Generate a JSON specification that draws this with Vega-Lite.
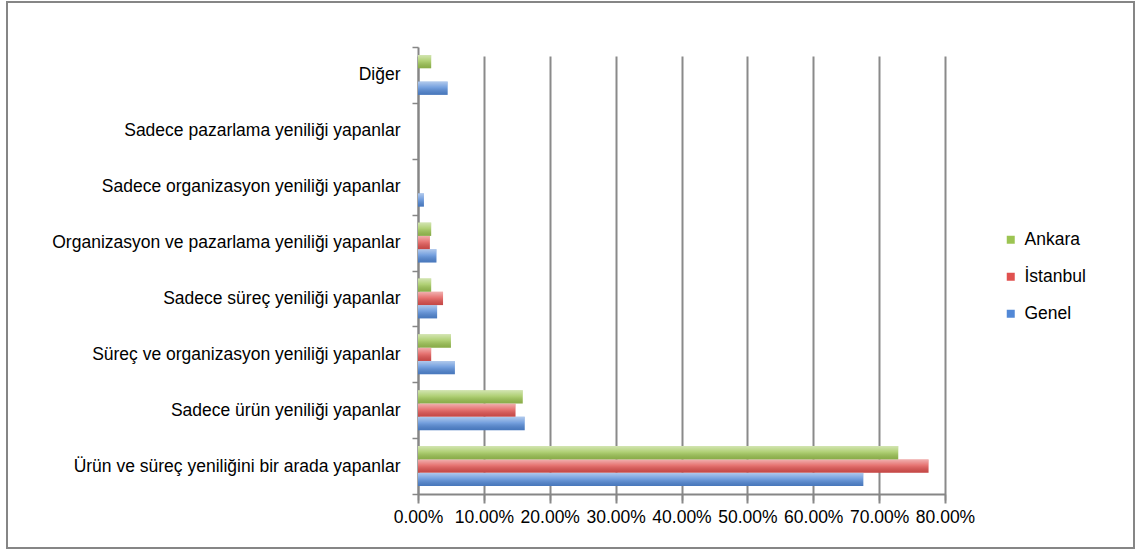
{
  "$schema": "https://vega.github.io/schema/vega-lite/v6.json",
  "width": 1127,
  "height": 546,
  "autosize": "none",
  "padding": {"left": 7, "top": 2, "right": 7, "bottom": 4},
  "background": "white",
  "config": {
    "font": "Liberation Sans",
    "view": {"stroke": "#868686", "strokeWidth": 2},
    "axis": {"labelFont": "Liberation Sans", "labelFontSize": 17.5, "labelColor": "#000000"}
  },
  "data": {
    "values": [
      {"kategori": "Ürün ve süreç yeniliğini bir arada yapanlar", "seri": "Genel", "oran": 0.676},
      {"kategori": "Ürün ve süreç yeniliğini bir arada yapanlar", "seri": "İstanbul", "oran": 0.775},
      {"kategori": "Ürün ve süreç yeniliğini bir arada yapanlar", "seri": "Ankara", "oran": 0.729},
      {"kategori": "Sadece ürün yeniliği yapanlar", "seri": "Genel", "oran": 0.162},
      {"kategori": "Sadece ürün yeniliği yapanlar", "seri": "İstanbul", "oran": 0.148},
      {"kategori": "Sadece ürün yeniliği yapanlar", "seri": "Ankara", "oran": 0.159},
      {"kategori": "Süreç ve organizasyon yeniliği yapanlar", "seri": "Genel", "oran": 0.056},
      {"kategori": "Süreç ve organizasyon yeniliği yapanlar", "seri": "İstanbul", "oran": 0.020},
      {"kategori": "Süreç ve organizasyon yeniliği yapanlar", "seri": "Ankara", "oran": 0.050},
      {"kategori": "Sadece süreç yeniliği yapanlar", "seri": "Genel", "oran": 0.029},
      {"kategori": "Sadece süreç yeniliği yapanlar", "seri": "İstanbul", "oran": 0.038},
      {"kategori": "Sadece süreç yeniliği yapanlar", "seri": "Ankara", "oran": 0.020},
      {"kategori": "Organizasyon ve pazarlama yeniliği yapanlar", "seri": "Genel", "oran": 0.028},
      {"kategori": "Organizasyon ve pazarlama yeniliği yapanlar", "seri": "İstanbul", "oran": 0.018},
      {"kategori": "Organizasyon ve pazarlama yeniliği yapanlar", "seri": "Ankara", "oran": 0.020},
      {"kategori": "Sadece organizasyon yeniliği yapanlar", "seri": "Genel", "oran": 0.009},
      {"kategori": "Sadece organizasyon yeniliği yapanlar", "seri": "İstanbul", "oran": 0.0},
      {"kategori": "Sadece organizasyon yeniliği yapanlar", "seri": "Ankara", "oran": 0.0},
      {"kategori": "Sadece pazarlama yeniliği yapanlar", "seri": "Genel", "oran": 0.0},
      {"kategori": "Sadece pazarlama yeniliği yapanlar", "seri": "İstanbul", "oran": 0.0},
      {"kategori": "Sadece pazarlama yeniliği yapanlar", "seri": "Ankara", "oran": 0.0},
      {"kategori": "Diğer", "seri": "Genel", "oran": 0.045},
      {"kategori": "Diğer", "seri": "İstanbul", "oran": 0.0},
      {"kategori": "Diğer", "seri": "Ankara", "oran": 0.020}
    ]
  },
  "encoding": {
    "y": {
      "field": "kategori",
      "type": "nominal",
      "sort": [
        "Diğer",
        "Sadece pazarlama yeniliği yapanlar",
        "Sadece organizasyon yeniliği yapanlar",
        "Organizasyon ve pazarlama yeniliği yapanlar",
        "Sadece süreç yeniliği yapanlar",
        "Süreç ve organizasyon yeniliği yapanlar",
        "Sadece ürün yeniliği yapanlar",
        "Ürün ve süreç yeniliğini bir arada yapanlar"
      ],
      "scale": {"range": [45, 492], "paddingInner": 0, "paddingOuter": 0},
      "axis": {
        "title": null,
        "offset": -411,
        "tickBand": "extent",
        "tickSize": 6,
        "tickColor": "#868686",
        "tickWidth": 1.5,
        "domainColor": "#868686",
        "domainWidth": 2,
        "labelPadding": 12,
        "labelLimit": 420,
        "grid": false
      }
    },
    "x": {
      "field": "oran",
      "type": "quantitative",
      "scale": {"domain": [0, 0.8], "range": [411, 938], "nice": false},
      "axis": {
        "title": null,
        "offset": -54,
        "format": ".2%",
        "values": [0, 0.1, 0.2, 0.3, 0.4, 0.5, 0.6, 0.7, 0.8],
        "labelOverlap": false,
        "labelFlush": false,
        "tickSize": 6,
        "tickColor": "#868686",
        "tickWidth": 1.5,
        "domainColor": "#868686",
        "domainWidth": 2,
        "labelPadding": 8,
        "grid": true,
        "gridColor": "#8a8a8a",
        "gridWidth": 2
      }
    },
    "yOffset": {
      "field": "seri",
      "type": "nominal",
      "sort": ["Ankara", "İstanbul", "Genel"],
      "scale": {"paddingInner": 0, "paddingOuter": 0.6}
    }
  },
  "layer": [
    {
      "mark": {"type": "bar"},
      "encoding": {
        "color": {
          "field": "seri",
          "type": "nominal",
          "scale": {
            "domain": ["Ankara", "İstanbul", "Genel"],
            "range": ["#9cc452", "#e0514f", "#5288d6"]
          },
          "legend": {
            "title": null,
            "orient": "none",
            "legendX": 995,
            "legendY": 229,
            "symbolType": "square",
            "symbolSize": 64,
            "symbolStrokeWidth": 0,
            "labelFontSize": 17.5,
            "labelFont": "Liberation Sans",
            "labelColor": "#000000",
            "labelOffset": 5,
            "rowPadding": 18
          }
        }
      }
    },
    {
      "mark": {
        "type": "bar",
        "fill": {
          "gradient": "linear",
          "x1": 0, "y1": 0, "x2": 0, "y2": 1,
          "stops": [
            {"offset": 0, "color": "rgba(255,255,255,0.55)"},
            {"offset": 0.45, "color": "rgba(255,255,255,0.2)"},
            {"offset": 1, "color": "rgba(0,0,0,0.12)"}
          ]
        }
      },
      "encoding": {}
    }
  ]
}
